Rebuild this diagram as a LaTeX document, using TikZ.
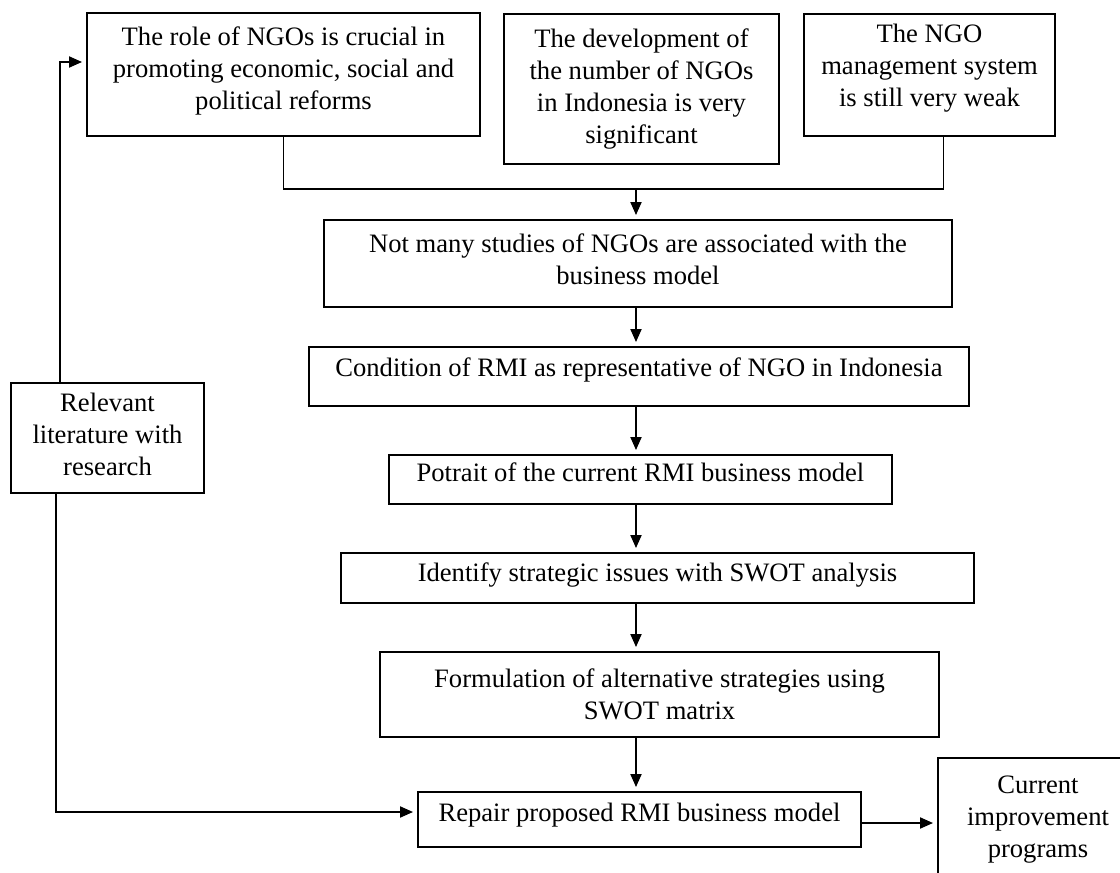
\documentclass[tikz,border=0pt]{standalone}
\usepackage{fontspec}
\setmainfont{Liberation Serif}
\usetikzlibrary{arrows.meta,positioning}

\begin{document}
\begin{tikzpicture}[x=1pt,y=-1pt,
  box/.style={draw, line width=1.9pt, align=center, inner sep=0pt, font=\fontsize{26.6}{32}\selectfont},
  link/.style={line width=1.9pt},
  flow/.style={line width=1.9pt, -{Triangle[length=13pt,width=11pt]}, shorten >=4pt}]
\useasboundingbox (0,0) rectangle (1120,873);
\clip (0,0) rectangle (1120,873);

% Problem boxes
\node[box, minimum width=393pt, minimum height=123pt, text depth=12pt] (role) at (283.5,74.5) {The role of NGOs is crucial in\\promoting economic, social and\\political reforms};
\node[box, minimum width=275pt, minimum height=150pt] (growth) at (641.5,89) {The development of\\the number of NGOs\\in Indonesia is very\\significant};
\node[box, minimum width=251pt, minimum height=122pt, text depth=20pt] (weak) at (929.5,75) {The NGO\\management system\\is still very weak};

% Main flow
\node[box, minimum width=628pt, minimum height=87pt, text depth=9pt] (studies) at (638,263.5) {Not many studies of NGOs are associated with the\\business model};
\node[box, minimum width=660pt, minimum height=59pt, text depth=18pt] (cond) at (639,376.5) {Condition of RMI as representative of NGO in Indonesia};
\node[box, minimum width=503pt, minimum height=49pt, text depth=14pt] (portrait) at (640.5,479.5) {Potrait of the current RMI business model};
\node[box, minimum width=633pt, minimum height=50pt, text depth=12pt] (swot) at (657.5,578) {Identify strategic issues with SWOT analysis};
\node[box, minimum width=559pt, minimum height=85pt] (matrix) at (659.5,694.5) {Formulation of alternative strategies using\\SWOT matrix};
\node[box, minimum width=443pt, minimum height=55pt, text depth=14pt] (repair) at (639.5,819.5) {Repair proposed RMI business model};
\node[box, minimum width=200pt, minimum height=130pt, text depth=12pt] (current) at (1038,823) {Current\\improvement\\programs};

% Literature
\node[box, minimum width=193pt, minimum height=110pt, text depth=7pt] (lit) at (107.5,438) {Relevant\\literature with\\research};

% Joining lines
\coordinate (join) at (636,189);
\draw[link] (role.south) |- (join) -| ([xshift=14pt]weak.south);
\draw[flow] (join) -- (join |- studies.north);
\foreach \a/\b in {studies/cond, cond/portrait, portrait/swot, swot/matrix, matrix/repair}
    \draw[flow] (join |- \a.south) -- (join |- \b.north);

% Feedback from literature
\draw[flow] ([xshift=-47.5pt]lit.north) |- ([yshift=12.5pt]role.west);
\draw[flow] ([xshift=-51.5pt]lit.south) |- ([yshift=7.5pt]repair.west);
\coordinate (out) at ([yshift=-3.5pt]repair.east);
\draw[flow] (out) -- (out -| current.west);

\end{tikzpicture}
\end{document}
